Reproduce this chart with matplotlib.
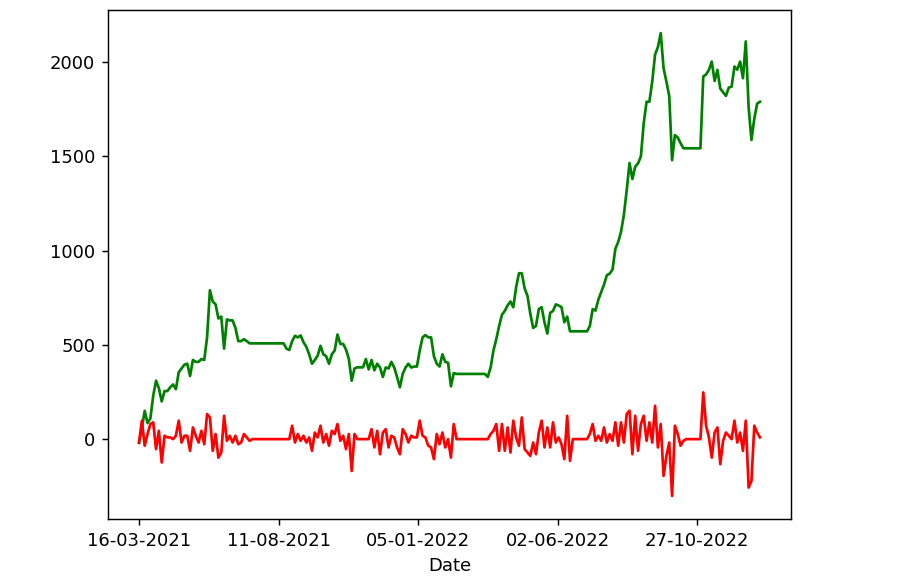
import numpy as np
import pandas as pd
import matplotlib
matplotlib.use('Agg')
from matplotlib import pyplot as plt
import matplotlib.dates as mdates

# sampled every 3 days starting 16-03-2021
start_date = '2021-03-16'
step = '3D'

# cumulative value (green)
total = [
    -20, 60, 150, 85, 110, 230, 310, 270, 200, 255,
    255, 275, 290, 265, 355, 375, 395, 400, 335, 420,
    410, 410, 425, 420, 540, 790, 730, 715, 640, 650,
    480, 635, 630, 630, 590, 520, 520, 530, 520, 508,
    508, 508, 508, 508, 508, 508, 508, 508, 508, 508,
    508, 508, 480, 473, 520, 548, 540, 550, 514, 490,
    450, 400, 420, 443, 495, 450, 440, 400, 450, 470,
    555, 505, 505, 475, 425, 310, 375, 381, 381, 381,
    425, 370, 420, 365, 400, 380, 330, 380, 375, 410,
    380, 330, 275, 346, 380, 400, 380, 385, 385, 470,
    540, 552, 540, 540, 440, 400, 385, 450, 410, 405,
    280, 350, 346, 346, 346, 346, 346, 346, 346, 346,
    346, 346, 346, 330, 380, 470, 530, 600, 660, 680,
    710, 730, 700, 806, 880, 880, 800, 760, 665, 590,
    600, 690, 700, 620, 560, 670, 680, 715, 709, 700,
    620, 650, 572, 572, 572, 572, 572, 572, 572, 600,
    690, 682, 740, 780, 820, 870, 878, 900, 1010, 1046,
    1100, 1190, 1320, 1465, 1380, 1445, 1463, 1500, 1676, 1790,
    1790, 1897, 2040, 2080, 2154, 1968, 1897, 1820, 1480, 1613,
    1600, 1570, 1543, 1543, 1543, 1543, 1543, 1543, 1543, 1924,
    1935, 1959, 2003, 1900, 1959, 1860, 1840, 1821, 1865, 1870,
    1977, 1960, 2003, 1915, 2110, 1760, 1587, 1700, 1780, 1790,
]

# change per step (red)
change = [
    -18, 98, -35, 27, 80, 89, -53, 44, -124, 18,
    9, 9, 0, 18, 98, -18, 18, 18, -62, 62,
    18, -18, 44, -27, 133, 115, -62, 27, -98, -71,
    124, -9, 18, -18, 18, -27, -18, 27, 9, -9,
    0, 0, 0, 0, 0, 0, 0, 0, 0, 0,
    0, 0, 0, 0, 71, -18, 27, -9, 18, -18,
    9, -62, 35, 9, 71, -18, 27, -35, 44, 27,
    80, -9, 18, -53, 27, -169, 27, 0, 0, 0,
    0, 0, 53, -44, 44, -80, 35, 53, -44, 18,
    9, -44, -80, 53, 27, -18, 18, 9, 9, 98,
    18, 9, -35, -44, -106, 27, -27, 35, -44, 0,
    -98, 80, 0, 0, 0, 0, 0, 0, 0, 0,
    0, 0, 0, 0, 27, 44, 80, -62, 80, -62,
    62, -71, 98, 9, -35, 115, -53, -71, -89, -18,
    -80, 35, 98, -44, 62, -44, 89, -18, 9, -27,
    -106, 124, -115, 0, 0, 0, 0, 0, 0, 27,
    80, -9, 18, -9, 62, -18, 27, -9, 89, -35,
    89, -18, 133, 151, -80, 124, -62, 80, 124, -9,
    89, -18, 177, -44, 80, -195, -89, -18, -301, 71,
    27, -35, -9, 0, 0, 0, 0, 0, 0, 248,
    71, 9, -98, 35, 62, -133, -9, 35, 18, 0,
    98, -18, 35, -62, 98, -257, -222, 71, 35, 9,
]

tick_dates = ['2021-03-16', '2021-08-11', '2022-01-05', '2022-06-02', '2022-10-27']

dates = pd.date_range(start_date, periods=len(total), freq=step)

# 909x584 px, rendered at 130 dpi so text and lines come out a bit larger
fig = plt.figure(figsize=(909 / 130, 584 / 130), dpi=130)
ax = fig.add_axes([0.1188, 0.1113, 0.7514, 0.8716])
ax.plot(dates, total, color='green')
ax.plot(dates, change, color='red')

ax.set_xticks(pd.to_datetime(tick_dates))
ax.xaxis.set_major_formatter(mdates.DateFormatter('%d-%m-%Y'))
ax.set_xlabel('Date')

fig.savefig('out.png', dpi=130)
